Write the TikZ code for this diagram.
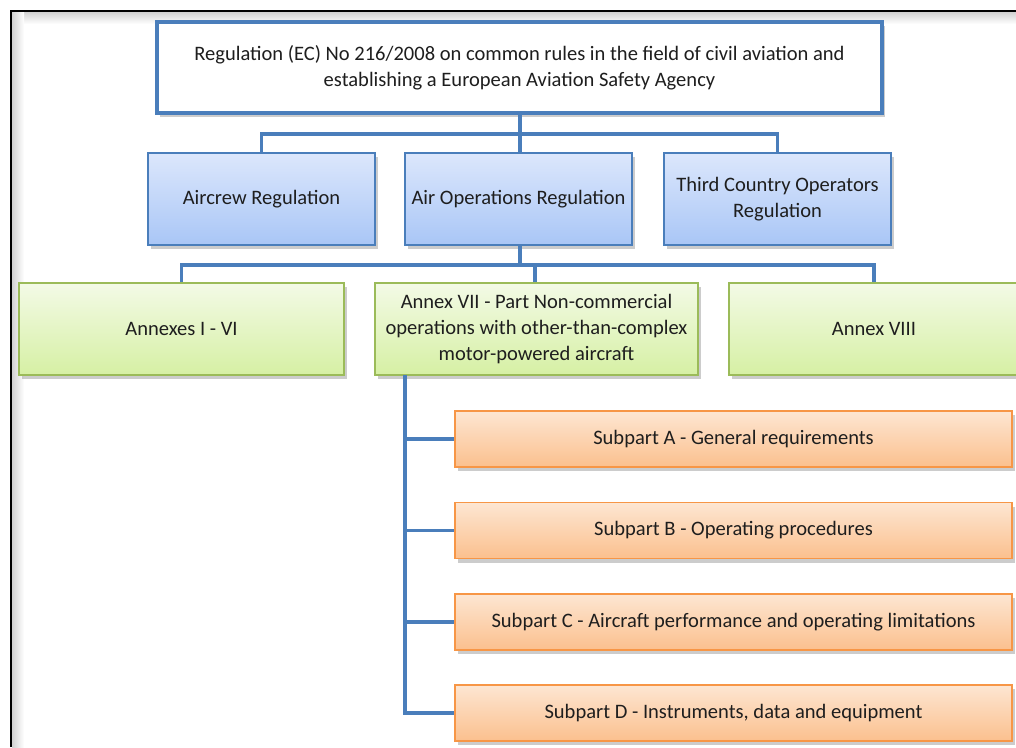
\documentclass[tikz,border=0pt]{standalone}
\usepackage{fontspec}
\setmainfont{Carlito}
\usepackage{tikz}
\usetikzlibrary{shadows}
\definecolor{linkblue}{HTML}{4A7EBB}
\definecolor{regtop}{HTML}{DCE7FC}
\definecolor{regbot}{HTML}{A9C6F6}
\definecolor{annborder}{HTML}{9BBB59}
\definecolor{anntop}{HTML}{F3FAE6}
\definecolor{annbot}{HTML}{D6F0A4}
\definecolor{subborder}{HTML}{F79646}
\definecolor{subtop}{HTML}{FDE6D2}
\definecolor{subbot}{HTML}{FBC08E}
\definecolor{txt}{HTML}{1E1E1E}
\begin{document}
\begin{tikzpicture}[x=0.75pt,y=-0.75pt, every node/.style={font=\fontsize{15.4}{19.8}\selectfont, text=txt}]
\tikzset{box/.style = {shape=rectangle, align=center, inner sep=0pt, drop shadow={opacity=0.4, shadow xshift=2.5pt, shadow yshift=-3pt}}}
\tikzset{topbox/.style = {box, draw=linkblue, line width=2.6pt, fill=white, minimum width=543.75pt, minimum height=68.25pt}}
\tikzset{regbox/.style = {box, draw=linkblue, line width=1.4pt, top color=regtop, bottom color=regbot, minimum width=170.25pt, minimum height=69pt}}
\tikzset{annbox/.style = {box, draw=annborder, line width=1.4pt, top color=anntop, bottom color=annbot, minimum height=69pt}}
\tikzset{subbox/.style = {box, draw=subborder, line width=1.4pt, top color=subtop, bottom color=subbot, minimum width=417.75pt, minimum height=42pt}}
\tikzset{edge/.style = {draw=linkblue, line width=2.8pt}}
\useasboundingbox (0,0) rectangle (1016,747);
% frame
\shade[top color=black!18, bottom color=white] (12,12) rectangle (1016,24);
\shade[left color=black!18, right color=white] (12,12) rectangle (24,747);
\draw[line width=1.6pt] (11,747) -- (11,11) -- (1016,11);
% main
\node[topbox] (ec) at (519.5,67.5) {Regulation (EC) No 216/2008 on common rules in the field of civil aviation and\\establishing a European Aviation Safety Agency};
% regulations
\node[regbox] (aircrew) at (261.5,199) {Aircrew Regulation};
\node[regbox] (airops) at (518.5,199) {Air Operations Regulation};
\node[regbox] (tco) at (777.5,199) {Third Country Operators\\Regulation};
% annexes
\node[annbox, minimum width=243.75pt] (ann16) at (181.5,329) {Annexes I - VI};
\node[annbox, minimum width=242.25pt] (ann7) at (536.5,329) {Annex VII - Part Non-commercial\\operations with other-than-complex\\motor-powered aircraft};
\node[annbox, minimum width=218pt] (ann8) at (874,329) {Annex VIII};
% subparts
\node[subbox] (subA) at (733.5,439) {Subpart A - General requirements};
\node[subbox] (subB) at (733.5,530.5) {Subpart B - Operating procedures};
\node[subbox] (subC) at (733.5,622) {Subpart C - Aircraft performance and operating limitations};
\node[subbox] (subD) at (733.5,713) {Subpart D - Instruments, data and equipment};
% junctions
\coordinate (j1) at (520,134);
\coordinate (j2) at (520,265);
\coordinate (j3) at (405,375);
%edges
\draw[edge] (ec.south -| j1) -- (j1);
\draw[edge] (aircrew.north) |- (j1) -| (tco.north);
\draw[edge] (j1) -- (airops.north -| j1);
%edges 2
\draw[edge] (airops.south -| j2) -- (j2);
\draw[edge] (ann16.north) |- (j2) -| (ann8.north);
\draw[edge] (j2 -| 535,0) -- (ann7.north -| 535,0);
%edges 3
\draw[edge] (j3) |- (subD.west);
\draw[edge] (j3 |- subA.west) -- (subA.west);
\draw[edge] (j3 |- subB.west) -- (subB.west);
\draw[edge] (j3 |- subC.west) -- (subC.west);
\end{tikzpicture}
\end{document}
